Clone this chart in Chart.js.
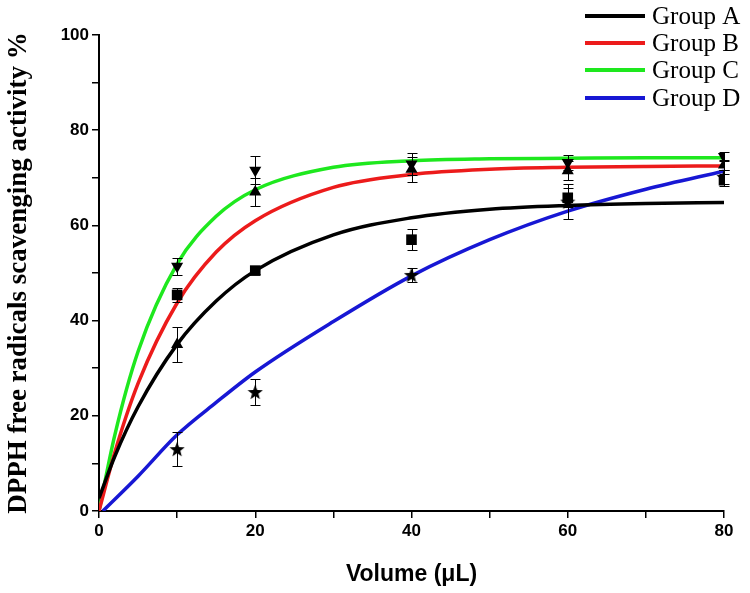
<!DOCTYPE html>
<html>
<head>
<meta charset="utf-8">
<script src="https://cdn.jsdelivr.net/npm/chart.js@4/dist/chart.umd.min.js"></script>
<style>
  html, body { margin: 0; padding: 0; background: #fff; }
  #wrap { width: 750px; height: 593px; position: relative; }
</style>
</head>
<body>
<div id="wrap"><canvas id="c" width="750" height="593"></canvas></div>
<script>
// ---------- data ----------
const groupLabels = ['Group A', 'Group B', 'Group C', 'Group D'];
const groupColors = ['#000000', '#ec1b1b', '#1ee81e', '#1717d4'];

// fitted curves (x in µL, y in %)
const curveX  = [0, 2, 5, 10, 15, 20, 30, 40, 50, 60, 70, 80];
const groupA  = [2.7, 11.4, 21.9, 35.0, 44.1, 50.5, 58.0, 61.6, 63.4, 64.2, 64.6, 64.8];
const groupB  = [0, 12.2, 26.8, 43.7, 54.4, 61.0, 68.0, 70.7, 71.8, 72.2, 72.4, 72.5];
const groupC  = [0, 15.8, 33.5, 51.9, 61.9, 67.5, 72.2, 73.6, 74.0, 74.1, 74.2, 74.2];
const curveXD = [0.5, 5, 10, 15, 20, 30, 40, 50, 60, 70, 80];
const groupD  = [0, 7.3, 16.0, 22.8, 29.2, 39.8, 49.4, 57.0, 63.0, 67.6, 71.4];

// measured points with error bars
const volumes      = [10, 20, 40, 60, 80];
const squareVals   = [45.4, 50.5, 57.0, 65.8, 69.5];
const squareErr    = [1.5, 0.8, 2.2, 2.0, 1.2];
const upTriVals    = [35.0, 67.0, 71.8, 71.5, 72.7];
const upTriErr     = [3.6, 3.0, 2.6, 2.0, 1.0];
const downTriVals  = [51.4, 71.6, 72.9, 73.2, 74.5];
const downTriErr   = [1.8, 2.9, 2.4, 1.5, 1.0];
const starVals     = [13.0, 25.0, 49.6, 65.0, 70.2];
const starErr      = [3.6, 2.8, 1.5, 3.6, 1.5];

const xTicks = [0, 20, 40, 60, 80];
const yTicks = [0, 20, 40, 60, 80, 100];

// ---------- helpers ----------
const pts = (xs, ys) => xs.map((x, i) => ({ x: x, y: ys[i] }));

function makeStar(size) {
  const c = document.createElement('canvas');
  c.width = size; c.height = size;
  const g = c.getContext('2d');
  const cx = size / 2, cy = size / 2 + 0.7, R = size / 2, r = R * 0.42;
  g.beginPath();
  for (let i = 0; i < 10; i++) {
    const rad = i % 2 === 0 ? R : r;
    const a = -Math.PI / 2 + i * Math.PI / 5;
    const px = cx + rad * Math.cos(a), py = cy + rad * Math.sin(a);
    if (i === 0) g.moveTo(px, py); else g.lineTo(px, py);
  }
  g.closePath();
  g.fillStyle = '#000';
  g.fill();
  return c;
}
const starImg = makeStar(16);

const curveDs = (label, xs, ys, color) => ({
  type: 'line', label: label, data: pts(xs, ys),
  borderColor: color, backgroundColor: color, borderWidth: 3.5,
  pointRadius: 0, cubicInterpolationMode: 'monotone', fill: false, order: 2,
  isCurve: true
});
const markerDs = (label, ys, err, style, rot, r) => ({
  type: 'scatter', label: label, data: pts(volumes, ys), err: err,
  pointStyle: style, rotation: rot, pointRadius: r,
  backgroundColor: '#000', borderColor: '#000', borderWidth: 0, order: 1
});

// ---------- plugins ----------
const errorBars = {
  id: 'errorBars',
  beforeDatasetDraw(chart, args) {
    const ds = chart.data.datasets[args.index];
    if (!ds.err) return;
    const { ctx } = chart;
    const xs = chart.scales.x, ys = chart.scales.y;
    ctx.save();
    ctx.strokeStyle = '#000';
    ctx.lineWidth = 1;
    ds.data.forEach((p, i) => {
      const px = Math.round(xs.getPixelForValue(p.x)) + 0.5;
      const t = Math.round(ys.getPixelForValue(p.y + ds.err[i])) + 0.5;
      const b = Math.round(ys.getPixelForValue(p.y - ds.err[i])) + 0.5;
      ctx.beginPath();
      ctx.moveTo(px, t); ctx.lineTo(px, b);
      ctx.moveTo(px - 5, t); ctx.lineTo(px + 5, t);
      ctx.moveTo(px - 5, b); ctx.lineTo(px + 5, b);
      ctx.stroke();
    });
    ctx.restore();
  }
};

const customLegend = {
  id: 'customLegend',
  afterDraw(chart) {
    const { ctx } = chart;
    const rows = [16, 43, 70, 98];
    ctx.save();
    ctx.font = '25px "Liberation Serif", "Times New Roman", serif';
    ctx.textBaseline = 'middle';
    ctx.textAlign = 'left';
    chart.data.datasets.filter(d => d.isCurve).forEach((d, i) => {
      const y = rows[i];
      ctx.strokeStyle = d.borderColor;
      ctx.lineWidth = 4;
      ctx.beginPath();
      ctx.moveTo(585, y); ctx.lineTo(645, y);
      ctx.stroke();
      ctx.fillStyle = '#000';
      ctx.fillText(d.label, 652, y + 1);
    });
    ctx.restore();
  }
};

// ---------- chart ----------
const tickFont = { family: '"Liberation Sans", Arial, sans-serif', size: 17, weight: 'bold' };

new Chart(document.getElementById('c'), {
  data: {
    datasets: [
      curveDs(groupLabels[0], curveX, groupA, groupColors[0]),
      curveDs(groupLabels[1], curveX, groupB, groupColors[1]),
      curveDs(groupLabels[2], curveX, groupC, groupColors[2]),
      curveDs(groupLabels[3], curveXD, groupD, groupColors[3]),
      markerDs('square', squareVals, squareErr, 'rect', 0, 7.5),
      markerDs('up', upTriVals, upTriErr, 'triangle', 0, 7),
      markerDs('down', downTriVals, downTriErr, 'triangle', 180, 7),
      markerDs('star', starVals, starErr, starImg, 0, 8)
    ]
  },
  options: {
    responsive: false,
    animation: false,
    layout: { padding: { top: 35, right: 26, left: 0, bottom: 0 } },
    plugins: { legend: { display: false }, tooltip: { enabled: false } },
    scales: {
      x: {
        type: 'linear', min: 0, max: 80,
        afterFit(s) { s.height = 82; },
        border: { display: true, color: '#000', width: 2 },
        grid: { drawOnChartArea: false, drawTicks: true, tickLength: 7, color: '#000', lineWidth: 1.5 },
        ticks: {
          stepSize: 10, padding: 3, color: '#000', font: tickFont, maxRotation: 0,
          callback: v => (xTicks.includes(v) ? String(v) : '')
        },
        title: {
          display: true, text: 'Volume (μL)', color: '#000',
          font: { family: '"Liberation Sans", Arial, sans-serif', size: 23, weight: 'bold' },
          padding: { top: 0, bottom: 5 }
        }
      },
      y: {
        type: 'linear', min: 0, max: 100,
        afterFit(s) { s.width = 99; },
        border: { display: true, color: '#000', width: 2 },
        grid: { drawOnChartArea: false, drawTicks: true, tickLength: 7, color: '#000', lineWidth: 1.5 },
        ticks: {
          stepSize: 10, padding: 3, color: '#000', font: tickFont,
          callback: v => (yTicks.includes(v) ? String(v) : '')
        },
        title: {
          display: true, text: 'DPPH free radicals scavenging activity %', color: '#000',
          font: { family: '"Liberation Serif", "Times New Roman", serif', size: 27, weight: 'bold' },
          padding: { top: 3, bottom: 0 }
        }
      }
    }
  },
  plugins: [errorBars, customLegend]
});
</script>
</body>
</html>
